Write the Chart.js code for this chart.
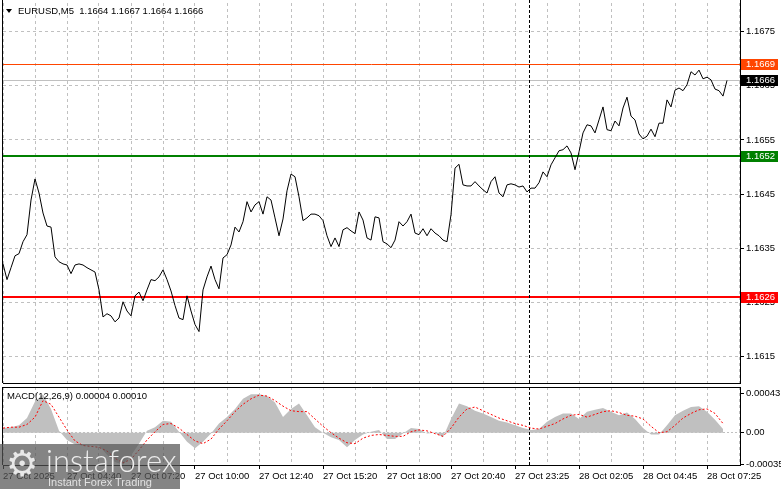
<!DOCTYPE html>
<html>
<head>
<meta charset="utf-8">
<script src="https://cdn.jsdelivr.net/npm/chart.js@4.4.0/dist/chart.umd.min.js"></script>
<style>
  html, body { margin: 0; padding: 0; background: #fff; }
  #wrap { position: relative; width: 781px; height: 489px; overflow: hidden; }
  #priceChart { position: absolute; left: 0; top: 0; }
  #macdChart { position: absolute; left: 0; top: 385px; }
  #logo { position: absolute; left: 0; top: 444px; width: 180px; height: 45px; background: rgba(85, 85, 85, 0.72); }
  #logo .gear { position: absolute; left: 6px; top: 2px; font: 36px/36px 'DejaVu Sans', sans-serif; color: #e8e8e8; }
  #logo .brand { position: absolute; left: 46px; top: -2px; font: 300 31px/36px Lato, sans-serif; color: #ededed; }
  #logo .slogan { position: absolute; left: 48px; top: 32px; font: 11px/12px 'Liberation Sans', Arial, sans-serif; color: #e2e2e2; }
</style>
</head>
<body>
<div id="wrap">
  <canvas id="priceChart" width="781" height="385"></canvas>
  <canvas id="macdChart" width="781" height="104"></canvas>
  <div id="logo"><span class="gear">⚙</span><span class="brand">instaforex</span><span class="slogan">Instant Forex Trading</span></div>
</div>
<script>
// EURUSD M5, one close every 2 bars
const closeStep = 2;
const closes = [
  1.16321, 1.16292, 1.16314, 1.16336, 1.16340, 1.16362, 1.16375, 1.16439, 1.16478, 1.16452,
  1.16415, 1.16391, 1.16389, 1.16334, 1.16325, 1.16321, 1.16319, 1.16303, 1.16319, 1.16321,
  1.16319, 1.16314, 1.16310, 1.16306, 1.16273, 1.16223, 1.16229, 1.16225, 1.16214, 1.16221,
  1.16251, 1.16234, 1.16225, 1.16262, 1.16269, 1.16253, 1.16273, 1.16292, 1.16290, 1.16297,
  1.16310, 1.16292, 1.16271, 1.16244, 1.16221, 1.16218, 1.16262, 1.16234, 1.16209, 1.16196,
  1.16273, 1.16297, 1.16317, 1.16292, 1.16275, 1.16332, 1.16338, 1.16356, 1.16389, 1.16380,
  1.16399, 1.16436, 1.16417, 1.16430, 1.16436, 1.16413, 1.16445, 1.16439, 1.16406, 1.16373,
  1.16404, 1.16456, 1.16487, 1.16482, 1.16445, 1.16401, 1.16406, 1.16413, 1.16413, 1.16410,
  1.16401, 1.16373, 1.16353, 1.16369, 1.16353, 1.16384, 1.16388, 1.16382, 1.16377, 1.16417,
  1.16402, 1.16369, 1.16365, 1.16408, 1.16406, 1.16362, 1.16358, 1.16351, 1.16365, 1.16399,
  1.16391, 1.16399, 1.16413, 1.16378, 1.16375, 1.16386, 1.16373, 1.16386, 1.16378, 1.16373,
  1.16365, 1.16362, 1.16412, 1.16498, 1.16505, 1.16467, 1.16465, 1.16465, 1.16473, 1.16465,
  1.16458, 1.16452, 1.16473, 1.16482, 1.16452, 1.16445, 1.16467, 1.16469, 1.16467, 1.16463,
  1.16465, 1.16454, 1.16461, 1.16461, 1.16471, 1.16491, 1.16482, 1.16504, 1.16517, 1.16530,
  1.16532, 1.16539, 1.16526, 1.16495, 1.16528, 1.16563, 1.16578, 1.16576, 1.16563, 1.16587,
  1.16611, 1.16569, 1.16567, 1.16585, 1.16576, 1.16609, 1.16629, 1.16594, 1.16587, 1.16561,
  1.16552, 1.16557, 1.16570, 1.16556, 1.16581, 1.16581, 1.16624, 1.16611, 1.16642, 1.16646,
  1.16641, 1.16652, 1.16676, 1.16670, 1.16679, 1.16663, 1.16666, 1.16661, 1.16644, 1.16641,
  1.16631, 1.16660
];

// MACD(12,26,9), one value every 4 bars
const macdStep = 4;
const macdMain = [
  0.00005, 0.00006, 0.00008, 0.00016, 0.00034, 0.00042, 0.00026, 0.00002, -0.00008, -0.00013,
  -0.00014, -0.00014, -0.00014, -0.00024, -0.00032, -0.00035, -0.00025, -0.00012, 0.00002, 0.00006,
  0.00013, 0.00012, 0.00001, -0.00010, -0.00017, -0.00010, -0.00001, 0.00010, 0.00017, 0.00026,
  0.00037, 0.00042, 0.00042, 0.00040, 0.00033, 0.00017, 0.00026, 0.00032, 0.00019, 0.00006,
  0.00000, -0.00005, -0.00008, -0.00016, -0.00008, -0.00002, 0.00001, 0.00003, -0.00007, -0.00007,
  -0.00001, 0.00005, 0.00004, -0.00001, 0.00000, -0.00005, 0.00015, 0.00032, 0.00029, 0.00024,
  0.00021, 0.00017, 0.00013, 0.00011, 0.00008, 0.00005, 0.00003, 0.00004, 0.00012, 0.00017,
  0.00021, 0.00021, 0.00015, 0.00023, 0.00025, 0.00027, 0.00023, 0.00019, 0.00022, 0.00015,
  0.00005, -0.00002, -0.00002, 0.00008, 0.00019, 0.00024, 0.00028, 0.00029, 0.00023, 0.00014,
  0.00004
];
const macdSignal = [
  0.00005, 0.00006, 0.00006, 0.00009, 0.00017, 0.00035, 0.00031, 0.00017, 0.00003, -0.00009,
  -0.00014, -0.00015, -0.00016, -0.00020, -0.00028, -0.00033, -0.00029, -0.00019, -0.00008, 0.00001,
  0.00009, 0.00010, 0.00005, -0.00002, -0.00009, -0.00012, -0.00007, 0.00004, 0.00013, 0.00023,
  0.00031, 0.00037, 0.00041, 0.00040, 0.00035, 0.00029, 0.00024, 0.00023, 0.00023, 0.00015,
  0.00007, 0.00000, -0.00006, -0.00011, -0.00012, -0.00006, -0.00003, -0.00002, -0.00003, -0.00004,
  -0.00004, 0.00001, 0.00003, 0.00002, -0.00001, -0.00004, 0.00005, 0.00017, 0.00026, 0.00028,
  0.00024, 0.00020, 0.00016, 0.00013, 0.00010, 0.00008, 0.00005, 0.00004, 0.00007, 0.00010,
  0.00015, 0.00019, 0.00020, 0.00017, 0.00020, 0.00023, 0.00024, 0.00022, 0.00019, 0.00018,
  0.00015, 0.00007, 0.00000, 0.00001, 0.00008, 0.00016, 0.00021, 0.00025, 0.00026, 0.00021,
  0.00010
];

const priceTicks = [1.1615, 1.1625, 1.1635, 1.1645, 1.1655, 1.1665, 1.1675];
const macdTicks = [-0.00035, 0, 0.00043];
const labelBars = [0, 32, 64, 96, 128, 160, 192, 224, 256, 288, 320, 352];
const timeLabels = ['27 Oct 2025', '27 Oct 04:40', '27 Oct 07:20', '27 Oct 10:00', '27 Oct 12:40', '27 Oct 15:20',
  '27 Oct 18:00', '27 Oct 20:40', '27 Oct 23:25', '28 Oct 02:05', '28 Oct 04:45', '28 Oct 07:25'];

// horizontal levels: ask, bid, resistance, support
const levelPrices = [1.1669, 1.1666, 1.1652, 1.1626];
const levelColors = ['#ff4500', '#c0c0c0', '#008000', '#ff0000'];
const tagColors = ['#ff4500', '#000000', '#008000', '#ff0000'];
const levelWidths = [1, 1, 2, 2];

const separatorBar = 263; // 28 Oct 00:00
const lastBarEdge = 368.5;
const headerText = 'EURUSD,M5  1.1664 1.1667 1.1664 1.1666';
const macdText = 'MACD(12,26,9) 0.00004 0.00010';

const gridBars = [];
for (let b = 0; b <= 368; b += 16) gridBars.push(b);

const fontFamily = "'Liberation Sans', Arial, sans-serif";
const axisFont = { family: fontFamily, size: 9.5 };
const textFont = '9.5px ' + fontFamily;

Chart.defaults.font.family = fontFamily;
Chart.defaults.color = '#000';

const frame = {
  id: 'frame',
  beforeDatasetsDraw(chart, args, opts) {
    const { ctx, chartArea: a, scales: { x } } = chart;
    const sx = Math.round(x.getPixelForValue(separatorBar)) + 0.5;
    ctx.save();
    ctx.strokeStyle = '#000';
    ctx.lineWidth = 1;
    ctx.setLineDash([3, 2]);
    ctx.beginPath();
    ctx.moveTo(sx, opts.top);
    ctx.lineTo(sx, a.bottom);
    ctx.stroke();
    ctx.restore();
  },
  afterDraw(chart, args, opts) {
    const { ctx, chartArea: a } = chart;
    ctx.save();
    ctx.strokeStyle = '#000';
    ctx.lineWidth = 1;
    ctx.beginPath();
    ctx.moveTo(a.left - 0.5, opts.top);
    ctx.lineTo(a.left - 0.5, a.bottom);
    ctx.moveTo(Math.round(a.right) + 0.5, opts.top);
    ctx.lineTo(Math.round(a.right) + 0.5, a.top);
    if (opts.topLine) {
      ctx.moveTo(a.left, Math.round(a.top) + 0.5);
      ctx.lineTo(a.right, Math.round(a.top) + 0.5);
    }
    ctx.stroke();
    ctx.fillStyle = '#000';
    ctx.font = textFont;
    ctx.textBaseline = 'alphabetic';
    if (opts.arrow) {
      ctx.beginPath();
      ctx.moveTo(6, 9);
      ctx.lineTo(12, 9);
      ctx.lineTo(9, 13);
      ctx.closePath();
      ctx.fill();
    }
    ctx.fillText(opts.title, opts.titleX, opts.titleY);
    ctx.restore();
  }
};

const levels = {
  id: 'levels',
  beforeDatasetsDraw(chart) {
    const { ctx, chartArea: a, scales: { y } } = chart;
    ctx.save();
    levelPrices.forEach((p, i) => {
      const w = levelWidths[i];
      let py = Math.round(y.getPixelForValue(p));
      if (w % 2) py += 0.5;
      ctx.strokeStyle = levelColors[i];
      ctx.lineWidth = w;
      ctx.beginPath();
      ctx.moveTo(a.left, py);
      ctx.lineTo(a.right, py);
      ctx.stroke();
    });
    ctx.restore();
  },
  afterDraw(chart) {
    const { ctx, chartArea: a, scales: { y } } = chart;
    ctx.save();
    ctx.font = textFont;
    ctx.textBaseline = 'middle';
    levelPrices.forEach((p, i) => {
      const py = Math.round(y.getPixelForValue(p));
      ctx.fillStyle = tagColors[i];
      ctx.fillRect(Math.round(a.right) + 1, py - 5, 37, 11);
      ctx.fillStyle = '#fff';
      ctx.fillText(p.toFixed(4), Math.round(a.right) + 6, py + 0.5);
    });
    ctx.restore();
  }
};

function rightAxis(min, max, ticks, fmt, gridColor, dash) {
  return {
    position: 'right',
    min: min,
    max: max,
    afterBuildTicks: (s) => { s.ticks = ticks.map(v => ({ value: v })); },
    afterFit: (s) => { s.width = 41; s.paddingTop = 0; s.paddingBottom = 0; },
    ticks: { font: axisFont, padding: 2, callback: fmt },
    grid: { color: gridColor, tickColor: '#000', tickLength: 4 },
    border: { display: true, color: '#000', dash: dash }
  };
}

new Chart(document.getElementById('priceChart'), {
  type: 'line',
  data: {
    datasets: [{
      data: closes.map((c, i) => ({ x: i * closeStep, y: c })),
      borderColor: '#000',
      borderWidth: 1,
      pointRadius: 0,
      tension: 0
    }]
  },
  options: {
    responsive: false,
    animation: false,
    layout: { padding: { left: 3, top: 3, right: 0, bottom: 2 } },
    scales: {
      x: {
        type: 'linear',
        min: 0,
        max: lastBarEdge,
        afterBuildTicks: (s) => { s.ticks = gridBars.map(v => ({ value: v })); },
        afterFit: (s) => { s.height = 0; s.paddingLeft = 0; s.paddingRight = 0; },
        ticks: { display: false },
        grid: { color: '#c0c0c0', drawTicks: false },
        border: { display: true, color: '#000', dash: [3, 3] }
      },
      y: rightAxis(1.16101, 1.16803, priceTicks, v => v.toFixed(4), '#c0c0c0', [3, 3])
    },
    plugins: {
      legend: { display: false },
      tooltip: { enabled: false },
      frame: { top: 0, arrow: true, title: headerText, titleX: 18, titleY: 14 }
    }
  },
  plugins: [levels, frame]
});

new Chart(document.getElementById('macdChart'), {
  type: 'line',
  data: {
    datasets: [{
      // signal line
      data: macdSignal.map((v, i) => ({ x: i * macdStep, y: v })),
      borderColor: '#ff0000',
      borderWidth: 1,
      borderDash: [2, 2],
      pointRadius: 0,
      tension: 0
    }, {
      // main histogram, drawn as a solid silver area
      data: macdMain.map((v, i) => ({ x: i * macdStep, y: v })),
      borderWidth: 0,
      borderColor: 'rgba(0,0,0,0)',
      backgroundColor: '#c0c0c0',
      fill: 'origin',
      pointRadius: 0,
      tension: 0
    }]
  },
  options: {
    responsive: false,
    animation: false,
    layout: { padding: { left: 3, top: 2, right: 0, bottom: 0 } },
    scales: {
      x: {
        type: 'linear',
        offset: false,
        min: 0,
        max: lastBarEdge,
        afterBuildTicks: (s) => { s.ticks = gridBars.map(v => ({ value: v })); },
        afterFit: (s) => { s.height = 24; s.paddingLeft = 0; s.paddingRight = 0; },
        ticks: {
          font: axisFont,
          align: 'start',
          padding: 2,
          autoSkip: false,
          maxRotation: 0,
          callback: (v) => {
            const k = labelBars.indexOf(v);
            return k >= 0 ? timeLabels[k] : '';
          }
        },
        grid: {
          offset: false,
          color: '#c0c0c0',
          tickLength: 4,
          tickColor: (c) => (c.tick && labelBars.indexOf(c.tick.value) >= 0) ? '#000' : 'rgba(0,0,0,0)'
        },
        border: { display: true, color: '#000', dash: [3, 3] }
      },
      y: rightAxis(-0.000353, 0.000499, macdTicks, v => v === 0 ? '0.00' : v.toFixed(5),
        (c) => (c.tick && c.tick.value === 0) ? '#c0c0c0' : 'rgba(0,0,0,0)', [2, 2])
    },
    plugins: {
      legend: { display: false },
      tooltip: { enabled: false },
      filler: { drawTime: 'beforeDatasetsDraw' },
      frame: { top: 2, topLine: true, arrow: false, title: macdText, titleX: 7, titleY: 14 }
    }
  },
  plugins: [frame]
});
</script>
</body>
</html>
